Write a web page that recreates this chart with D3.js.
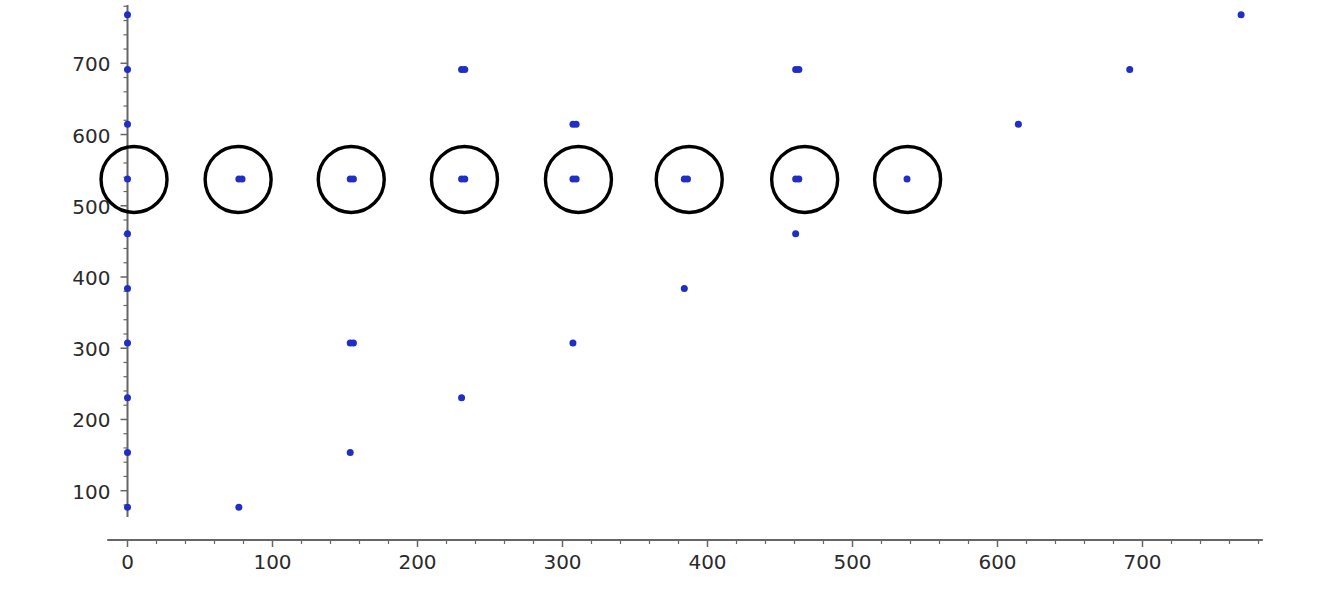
<!DOCTYPE html>
<html><head><meta charset="utf-8">
<script src="https://cdn.jsdelivr.net/npm/d3@7"></script>
<style>body{margin:0;background:#fff}svg{display:block}</style>
</head><body>
<script>
// data
const singleX = [0,0,0,0,0,0,0,0,0,0, 76.8,153.6,230.4,307.2,384,460.8,537.6,614.4,691.2,768];
const singleY = [76.8,153.6,230.4,307.2,384,460.8,537.6,614.4,691.2,768, 76.8,153.6,230.4,307.2,384,460.8,537.6,614.4,691.2,768];
const doubleX = [76.8,153.6,153.6,230.4,230.4,307.2,307.2,384,460.8,460.8];
const doubleY = [537.6,307.2,537.6,537.6,691.2,537.6,614.4,537.6,537.6,691.2];
const doubleGap = 2.2;
const circleX = [4.5,76.3,154.3,232.4,311,387.4,467,538];
const circleY = 537.6;
const xTicks = [0,100,200,300,400,500,600,700];
const yTicks = [100,200,300,400,500,600,700];

const W = 1318, H = 611;
const svg = d3.select("body").append("svg").attr("width", W).attr("height", H);
const x = d3.scaleLinear().domain([0,700]).range([127.5,1142.5]);
const y = d3.scaleLinear().domain([100,700]).range([490.7,63.3]);
const axisColor = "#666";
const xAxisY = 540, yAxisX = x(0);

// x axis
const gx = svg.append("g").attr("transform", `translate(0,${xAxisY})`);
gx.append("line").attr("x1", x(-14)).attr("x2", x(783)).attr("stroke", axisColor).attr("stroke-width", 2);
gx.call(g => {
  const minor = d3.range(0, 781, 20).filter(v => v % 100 !== 0);
  g.selectAll(".mn").data(minor).join("line").attr("x1", d=>x(d)).attr("x2", d=>x(d)).attr("y1",0).attr("y2",4).attr("stroke",axisColor).attr("stroke-width",1.2);
  g.selectAll(".mj").data(xTicks).join("line").attr("x1", d=>x(d)).attr("x2", d=>x(d)).attr("y1",0).attr("y2",7).attr("stroke",axisColor).attr("stroke-width",1.5);
  g.selectAll("text").data(xTicks).join("text").attr("x", d=>x(d)).attr("y", 29).attr("text-anchor","middle")
   .attr("font-family","DejaVu Sans").attr("font-size",20).attr("fill","#2a2a2a").text(d=>d);
});

// y axis
const gy = svg.append("g").attr("transform", `translate(${yAxisX},0)`);
gy.append("line").attr("y1", y(782)).attr("y2", y(63)).attr("stroke", axisColor).attr("stroke-width", 2);
gy.call(g => {
  const minor = d3.range(80, 781, 20).filter(v => v % 100 !== 0);
  g.selectAll(".mn").data(minor).join("line").attr("y1", d=>y(d)).attr("y2", d=>y(d)).attr("x1",0).attr("x2",-4).attr("stroke",axisColor).attr("stroke-width",1.2);
  g.selectAll(".mj").data(yTicks).join("line").attr("y1", d=>y(d)).attr("y2", d=>y(d)).attr("x1",0).attr("x2",-7).attr("stroke",axisColor).attr("stroke-width",1.5);
  g.selectAll("text").data(yTicks).join("text").attr("x", -17).attr("y", d=>y(d)+1).attr("dy","0.35em").attr("text-anchor","end")
   .attr("font-family","DejaVu Sans").attr("font-size",20).attr("fill","#2a2a2a").text(d=>d);
});

// points
const dotColor = "#1f2ec4";
const singles = singleX.map((v,i)=>[v, singleY[i]]);
const doubles = [];
doubleX.forEach((v,i)=>{ doubles.push([v, doubleY[i]]); doubles.push([v+doubleGap, doubleY[i]]); });
svg.append("g").selectAll("circle").data(singles.concat(doubles)).join("circle")
  .attr("cx", d=>x(d[0])).attr("cy", d=>y(d[1])).attr("r", 3.5).attr("fill", dotColor);

// annotation circles
svg.append("g").selectAll("circle").data(circleX).join("circle")
  .attr("cx", d=>x(d)).attr("cy", y(circleY)+0.5).attr("r", 33)
  .attr("fill","none").attr("stroke","#000").attr("stroke-width",3.4);
</script>
</body></html>
